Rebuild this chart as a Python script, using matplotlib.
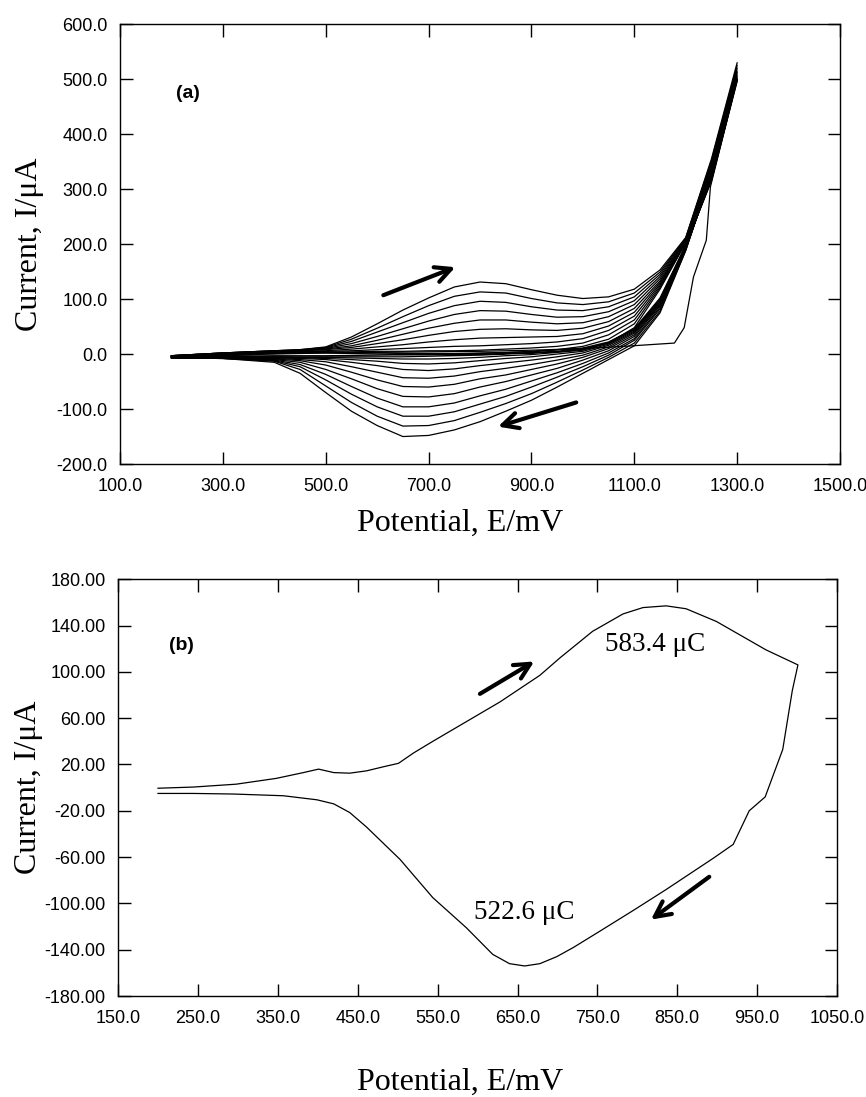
import matplotlib
matplotlib.use("Agg")
from matplotlib import pyplot as plt
from matplotlib.ticker import FormatStrFormatter

# ---- panel (a): repetitive cycling, 200 -> 1300 -> 200 mV ----
E_grid = [200, 300, 400, 450, 500, 550, 600, 650, 700, 750, 800, 850,
          900, 950, 1000, 1050, 1100, 1150, 1200, 1250, 1300]

# anodic (forward) sweeps, later cycles grow
an_c14 = [-3, 2, 6, 8, 13, 31, 55, 80, 102, 122, 131, 128, 117, 107, 101, 104, 118, 153, 212, 355, 530]
an_c13 = [-3, 2, 6, 8, 12, 27, 47, 68, 88, 105, 113, 111, 101, 93, 90, 95, 111, 149, 211, 352, 525]
an_c12 = [-3, 2, 6, 7, 11, 23, 40, 57, 74, 88, 96, 94, 86, 80, 79, 86, 104, 145, 210, 350, 520]
an_c11 = [-3, 2, 5, 7, 10, 19, 32, 46, 60, 72, 79, 78, 72, 67, 68, 77, 97, 141, 209, 347, 515]
an_c10 = [-3, 1, 5, 6, 9, 15, 25, 36, 47, 56, 62, 62, 58, 55, 57, 68, 90, 137, 208, 345, 512]
an_c09 = [-4, 1, 4, 6, 8, 12, 19, 26, 34, 41, 45, 46, 44, 43, 47, 59, 83, 133, 207, 342, 508]
an_c08 = [-4, 1, 4, 5, 6, 9, 13, 17, 22, 26, 29, 30, 31, 32, 37, 51, 76, 130, 206, 340, 505]
an_c07 = [-4, 0, 3, 4, 5, 6, 8, 10, 12, 14, 15, 17, 19, 22, 28, 43, 69, 127, 205, 338, 502]
an_c06 = [-4, 0, 3, 4, 4, 4, 5, 5, 6, 6, 7, 9, 11, 14, 20, 35, 62, 124, 204, 335, 500]
an_c05 = [-5, 0, 2, 3, 3, 2, 2, 1, 1, 1, 2, 3, 5, 8, 14, 27, 55, 121, 203, 333, 498]
an_c04 = [-5, -1, 1, 2, 2, 1, 0, -1, -1, -1, 0, 1, 2, 4, 9, 20, 48, 118, 202, 330, 496]

# cathodic (reverse) sweeps, listed in ascending potential
ca_c14 = [-7, -8, -15, -35, -70, -104, -130, -150, -148, -138, -123, -104, -84, -60, -35, -10, 15, 75, 188, 330, 530]
ca_c13 = [-7, -8, -13, -28, -58, -88, -113, -131, -130, -121, -106, -90, -72, -51, -29, -6, 20, 78, 189, 328, 525]
ca_c12 = [-7, -8, -12, -23, -47, -73, -96, -113, -113, -105, -91, -77, -60, -42, -23, -2, 25, 82, 190, 326, 520]
ca_c11 = [-7, -7, -11, -19, -37, -59, -80, -96, -96, -89, -76, -64, -49, -34, -17, 2, 28, 85, 191, 325, 515]
ca_c10 = [-7, -7, -10, -15, -28, -45, -63, -77, -78, -72, -60, -50, -38, -26, -11, 6, 32, 88, 192, 324, 512]
ca_c09 = [-6, -7, -9, -12, -20, -33, -47, -59, -60, -55, -45, -38, -28, -18, -6, 10, 35, 90, 193, 322, 508]
ca_c08 = [-6, -6, -8, -10, -14, -23, -33, -43, -44, -40, -32, -26, -19, -11, -2, 13, 38, 92, 194, 321, 505]
ca_c07 = [-6, -6, -7, -8, -10, -15, -21, -28, -30, -27, -21, -16, -11, -5, 2, 16, 40, 94, 195, 320, 502]
ca_c06 = [-6, -6, -6, -7, -8, -10, -13, -17, -18, -16, -12, -8, -5, 0, 5, 18, 42, 96, 196, 318, 500]
ca_c05 = [-6, -5, -5, -6, -6, -7, -8, -9, -9, -8, -6, -3, -1, 3, 7, 20, 44, 98, 197, 316, 498]
ca_c04 = [-5, -5, -5, -5, -5, -5, -5, -5, -4, -3, -2, 0, 2, 5, 9, 21, 45, 100, 198, 315, 496]

# first cycle: flat until oxidation onset near 1180 mV
E_first_an = [200, 300, 400, 500, 600, 700, 800, 900, 1000, 1080, 1178, 1197, 1215, 1240, 1248, 1300]
I_first_an = [-5, -2, 0, 2, 3, 4, 5, 7, 10, 14, 20, 48, 140, 207, 304, 500]
E_first_ca = [1300, 1250, 1200, 1150, 1100, 1050, 1000, 900, 800, 700, 600, 500, 400, 300, 200]
I_first_ca = [500, 318, 198, 102, 46, 22, 11, 4, 1, -1, -2, -3, -3, -4, -4]

anodic_a = [an_c04, an_c05, an_c06, an_c07, an_c08, an_c09, an_c10, an_c11, an_c12, an_c13, an_c14]
cathodic_a = [ca_c04, ca_c05, ca_c06, ca_c07, ca_c08, ca_c09, ca_c10, ca_c11, ca_c12, ca_c13, ca_c14]

# ---- panel (b): single cycle, 200 -> 1000 -> 200 mV ----
E_b = [200, 244, 298, 348, 382, 401, 420, 440, 461, 482, 501, 520, 544, 586, 628, 678, 703,
       744, 782, 807, 836, 861, 899, 961, 1001,
       994, 982, 960, 940, 920, 895, 836, 795, 753, 720, 699, 678, 659, 640, 619, 586, 544,
       503, 461, 440, 420, 399, 357, 294, 244, 200]
I_b = [-0.5, 0.5, 3, 8, 13, 16, 13, 12.5, 14.5, 18, 21, 30, 40, 57, 74, 97, 112,
       135, 150, 155.5, 157, 154.5, 143.5, 119, 106,
       84, 33, -8, -20, -49, -61, -88, -106, -124, -138, -146, -152, -154, -152, -144, -121, -95,
       -62, -34, -21.5, -14, -10.5, -7, -5.5, -5, -5]

charge_labels = ["583.4 \u03bcC", "522.6 \u03bcC"]

serif = "Liberation Serif"
sans = "Liberation Sans"

fig = plt.figure(figsize=(8.66, 10.97), dpi=100)
ax1 = fig.add_axes([0.1386, 0.577, 0.8314, 0.401])
ax2 = fig.add_axes([0.1363, 0.092, 0.8303, 0.380])

# panel (a)
for an, ca in zip(anodic_a, cathodic_a):
    ax1.plot(E_grid + E_grid[::-1], an + ca[::-1], color="black", lw=0.9)
ax1.plot(E_first_an + E_first_ca, I_first_an + I_first_ca, color="black", lw=0.9)

ax1.set_xlim(100, 1500)
ax1.set_ylim(-200, 600)
ax1.set_xticks(range(100, 1501, 200))
ax1.set_yticks(range(-200, 601, 100))
ax1.xaxis.set_major_formatter(FormatStrFormatter("%.1f"))
ax1.yaxis.set_major_formatter(FormatStrFormatter("%.1f"))
ax1.text(232, 474, "(a)", family=sans, fontweight="bold", fontsize=14, ha="center", va="center")

arrow = dict(arrowstyle="->", lw=3, color="black", mutation_scale=28, shrinkA=0, shrinkB=0)
ax1.annotate("", xy=(752, 158), xytext=(612, 107), arrowprops=arrow)
ax1.annotate("", xy=(835, -132), xytext=(987, -88), arrowprops=arrow)

# panel (b)
ax2.plot(E_b, I_b, color="black", lw=0.9)
ax2.set_xlim(150, 1050)
ax2.set_ylim(-180, 180)
ax2.set_xticks(range(150, 1051, 100))
ax2.set_yticks(range(-180, 181, 40))
ax2.xaxis.set_major_formatter(FormatStrFormatter("%.1f"))
ax2.yaxis.set_major_formatter(FormatStrFormatter("%.2f"))
ax2.text(229, 123, "(b)", family=sans, fontweight="bold", fontsize=14, ha="center", va="center")
ax2.text(822, 124, charge_labels[0], family=serif, fontsize=19.5, ha="center", va="center")
ax2.text(659, -108, charge_labels[1], family=serif, fontsize=19.5, ha="center", va="center")
ax2.annotate("", xy=(671, 109), xytext=(603, 81), arrowprops=arrow)
ax2.annotate("", xy=(817, -114), xytext=(890, -77), arrowprops=arrow)

for ax in (ax1, ax2):
    ax.tick_params(direction="in", top=True, right=True, length=9, width=1)
    ax.tick_params(axis="x", pad=10)
    ax.tick_params(axis="y", pad=9)
    for lab in ax.get_xticklabels() + ax.get_yticklabels():
        lab.set_family(sans)
        lab.set_fontsize(13)
    for s in ax.spines.values():
        s.set_linewidth(1)
    ax.set_xlabel("Potential, E/mV", family=serif, fontsize=23)
    ax.set_ylabel("Current, I/\u03bcA", family=serif, fontsize=23)

ax1.yaxis.set_label_coords(-0.106, 0.5)
ax1.xaxis.set_label_coords(0.472, -0.102)
ax2.yaxis.set_label_coords(-0.104, 0.5)
ax2.xaxis.set_label_coords(0.476, -0.172)

fig.savefig("out.png", dpi=100)
